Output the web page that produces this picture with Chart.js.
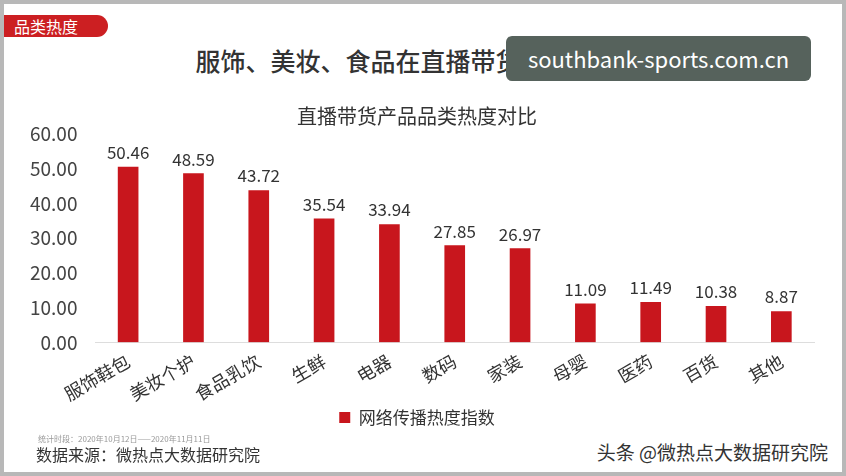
<!DOCTYPE html>
<html><head><meta charset="utf-8">
<script src="https://cdn.jsdelivr.net/npm/chart.js@4/dist/chart.umd.min.js"></script>
<style>
body{margin:0;width:846px;height:476px;overflow:hidden;font-family:"Noto Sans CJK SC",sans-serif;background:#fff}
#frame{position:absolute;left:0;top:0;width:838px;height:468px;border:4px solid #b8b8b8;}
#tag{position:absolute;left:4px;top:15px;width:94px;height:22px;background:#cc1f22;color:#fff;font-size:16px;line-height:22px;padding-left:10px;border-radius:0 11px 11px 0}
#title{position:absolute;left:0;width:846px;top:42px;text-align:center;font-size:25px;color:#333;padding-left:20px;box-sizing:border-box;font-weight:500}
#wm{position:absolute;left:506px;top:36px;width:305px;height:45px;background:#56625c;border-radius:6px;color:#fff;font-size:22px;line-height:45px;text-align:center}
#wrap{position:absolute;left:10px;top:100px;width:826px;height:336px}
#note{position:absolute;left:38px;top:433px;font-size:8px;color:#999}
#src{position:absolute;left:36px;top:442px;font-size:16px;color:#333}
#tt{position:absolute;right:18px;top:438px;font-size:19px;color:#333}
</style></head><body>
<div id="frame"></div>
<div id="tag">品类热度</div>
<div id="title">服饰、美妆、食品在直播带货领域最受欢迎</div>
<div id="wm">southbank-sports.com.cn</div>
<div id="wrap"><canvas id="c"></canvas></div>
<div id="note">统计时段：2020年10月12日——2020年11月11日</div>
<div id="src">数据来源：微热点大数据研究院</div>
<div id="tt">头条 @微热点大数据研究院</div>
<script>
const categories=["服饰鞋包","美妆个护","食品乳饮","生鲜","电器","数码","家装","母婴","医药","百货","其他"];
const values=[50.46,48.59,43.72,35.54,33.94,27.85,26.97,11.09,11.49,10.38,8.87];
const seriesName="网络传播热度指数";
const labelsPlugin={id:"vals",afterDatasetsDraw(ch){const ctx=ch.ctx;const m=ch.getDatasetMeta(0);ctx.save();ctx.font="17px 'Noto Sans CJK SC'";ctx.fillStyle="#333";ctx.textAlign="center";ctx.textBaseline="bottom";m.data.forEach((b,i)=>ctx.fillText(values[i].toFixed(2),b.x,b.y-6));ctx.restore();}};
new Chart(document.getElementById("c"),{type:"bar",data:{labels:categories,datasets:[{label:seriesName,data:values,backgroundColor:"#c8161d",barThickness:20}]},
options:{responsive:true,maintainAspectRatio:false,animation:false,layout:{padding:{left:10,right:22}},
plugins:{title:{display:true,text:"直播带货产品品类热度对比",font:{size:20,family:"Noto Sans CJK SC",weight:"normal"},color:"#333",padding:{top:4,bottom:6}},
legend:{position:"bottom",labels:{boxWidth:11,boxHeight:11,padding:4,font:{size:17,family:"Noto Sans CJK SC"},color:"#333"}},tooltip:{enabled:false}},
scales:{y:{min:0,max:60,ticks:{stepSize:10,padding:10,callback:v=>v.toFixed(2),font:{size:19,family:"Noto Sans CJK SC"},color:"#444"},grid:{display:false},border:{display:false}},
x:{ticks:{maxRotation:30,minRotation:30,padding:0,font:{size:18,family:"Noto Sans CJK SC"},color:"#333"},grid:{display:false},border:{color:"#ddd"}}}}
,plugins:[labelsPlugin]});
</script></body></html>
